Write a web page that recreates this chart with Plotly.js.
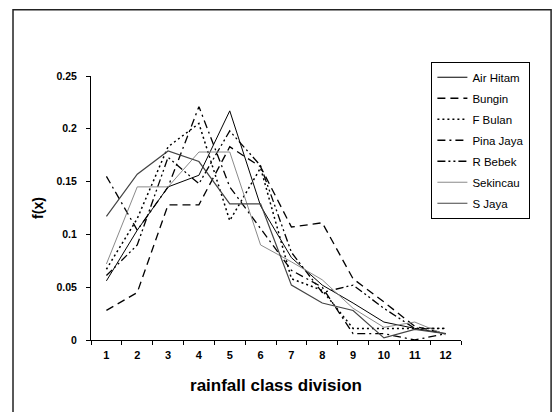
<!DOCTYPE html>
<html>
<head>
<meta charset="utf-8">
<script src="https://cdn.plot.ly/plotly-3.0.1.min.js"></script>
<style>html,body{margin:0;padding:0;background:#fff;}#chart{width:557px;height:412px;}</style>
</head>
<body>
<div id="chart"></div>
<script>
const classes = ["1","2","3","4","5","6","7","8","9","10","11","12"];
const airHitam = [0.056, 0.104, 0.145, 0.156, 0.217, 0.127, 0.078, 0.052, 0.035, 0.017, 0.011, 0.006];
const bungin   = [0.028, 0.045, 0.128, 0.128, 0.183, 0.164, 0.107, 0.111, 0.058, 0.036, 0.013, 0.006];
const fBulan   = [0.067, 0.115, 0.183, 0.205, 0.113, 0.163, 0.058, 0.047, 0.011, 0.011, 0.011, 0.011];
const pinaJaya = [0.155, 0.104, 0.145, 0.221, 0.145, 0.105, 0.066, 0.050, 0.006, 0.006, 0.000, 0.006];
const rBebek   = [0.061, 0.090, 0.173, 0.148, 0.198, 0.165, 0.083, 0.045, 0.052, 0.030, 0.011, 0.011];
const sekincau = [0.072, 0.145, 0.145, 0.178, 0.178, 0.090, 0.074, 0.057, 0.030, 0.012, 0.017, 0.005];
const sJaya    = [0.117, 0.157, 0.179, 0.169, 0.129, 0.129, 0.052, 0.035, 0.028, 0.002, 0.010, 0.006];
const seriesNames = ["Air Hitam","Bungin","F Bulan","Pina Jaya","R Bebek","Sekincau","S Jaya"];
const seriesData = [airHitam, bungin, fBulan, pinaJaya, rBebek, sekincau, sJaya];
const styles = [
  {color:"#000000", width:1, dash:"solid"},
  {color:"#000000", width:1.3, dash:"8px,5px"},
  {color:"#000000", width:1.5, dash:"2px,3px"},
  {color:"#000000", width:1.3, dash:"8px,4px,2px,4px"},
  {color:"#000000", width:1.3, dash:"8px,3px,2px,3px,2px,3px"},
  {color:"#8a8a8a", width:1, dash:"solid"},
  {color:"#444444", width:1.2, dash:"solid"}
];
const font = "Arial, 'Liberation Sans', sans-serif";
const traces = seriesNames.map((n,i)=>({
  type:"scatter", mode:"lines", name:n, x:classes, y:seriesData[i],
  legendgroup:"g"+i, line:styles[i]
}));
const layout = {
  width:557, height:412,
  margin:{l:91, r:96, t:76, b:72},
  paper_bgcolor:"#fff", plot_bgcolor:"#fff",
  font:{family:font, color:"#000"},
  showlegend:true,
  legend:{x:0.92, y:1.054, xanchor:"left", yanchor:"top",
    bordercolor:"#000", borderwidth:1, bgcolor:"#fff",
    font:{family:font, size:11.5, color:"#000"},
    traceorder:"grouped", tracegroupgap:2},
  xaxis:{type:"category", range:[-0.5, 11.5], tickson:"boundaries", ticks:"outside", ticklen:4, tickcolor:"#000",
    showline:true, linecolor:"#000", linewidth:1, showgrid:false, zeroline:false,
    tickfont:{family:font, size:11, color:"#000", weight:"bold"}, ticklabelstandoff:5,
    title:{text:"rainfall class division", font:{family:font, size:17, color:"#000", weight:"bold"}, standoff:18}},
  yaxis:{range:[0,0.25], dtick:0.05, ticks:"outside", ticklen:4, tickcolor:"#000",
    showline:true, linecolor:"#000", linewidth:1, showgrid:false, zeroline:false,
    tickfont:{family:font, size:10.5, color:"#000", weight:"bold"}, ticklabelstandoff:7,
    title:{text:"f(x)", font:{family:font, size:14, color:"#000", weight:"bold"}, standoff:9}},
  shapes:[{type:"rect", xref:"paper", yref:"paper", x0:-0.2108, x1:1.2435, y0:-0.4, y1:1.251,
    line:{color:"#222", width:1.5}, fillcolor:"rgba(0,0,0,0)", layer:"below"}]
};
Plotly.newPlot("chart", traces, layout, {displayModeBar:false, staticPlot:true});
</script>
</body>
</html>
